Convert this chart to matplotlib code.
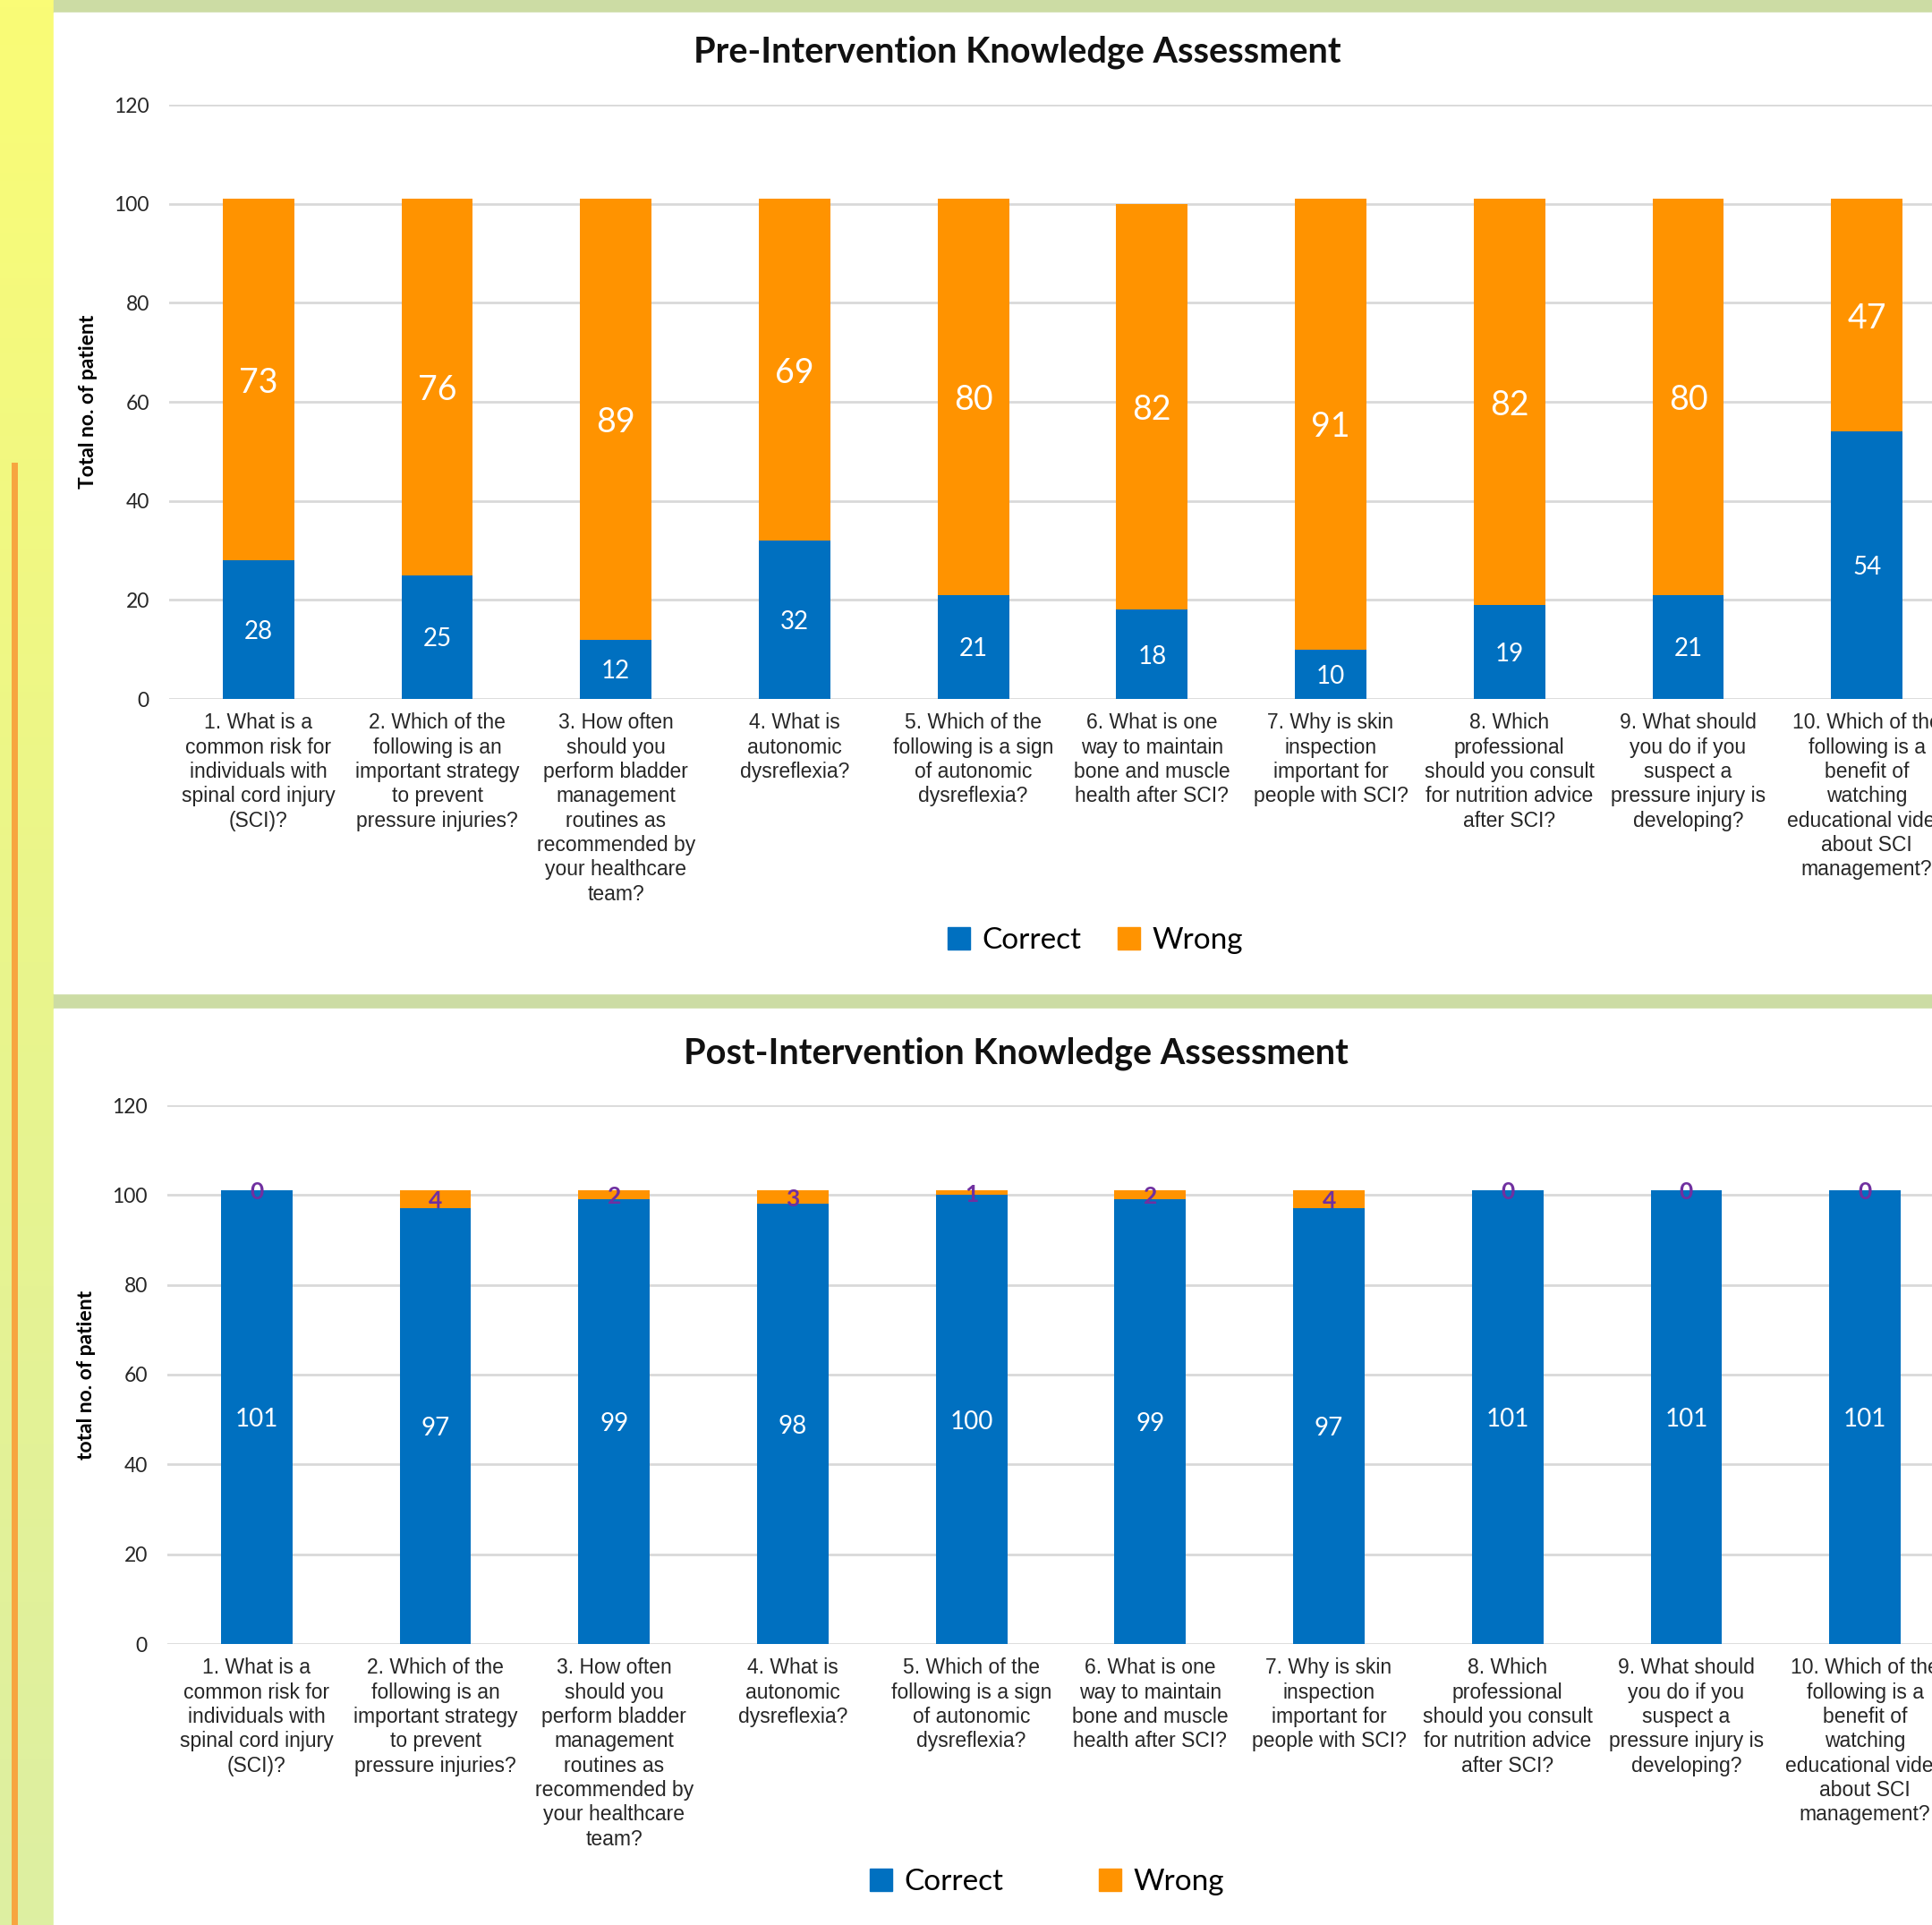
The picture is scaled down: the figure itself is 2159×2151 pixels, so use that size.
import numpy as np
import matplotlib
matplotlib.use('Agg')
import matplotlib.pyplot as plt
from matplotlib.patches import Rectangle, Patch

# Question labels (wrapped as in the chart)
questions = [
    "1. What is a\ncommon risk for\nindividuals with\nspinal cord injury\n(SCI)?",
    "2. Which of the\nfollowing is an\nimportant strategy\nto prevent\npressure injuries?",
    "3. How often\nshould you\nperform bladder\nmanagement\nroutines as\nrecommended by\nyour healthcare\nteam?",
    "4. What is\nautonomic\ndysreflexia?",
    "5. Which of the\nfollowing is a sign\nof autonomic\ndysreflexia?",
    "6. What is one\nway to maintain\nbone and muscle\nhealth after SCI?",
    "7. Why is skin\ninspection\nimportant for\npeople with SCI?",
    "8. Which\nprofessional\nshould you consult\nfor nutrition advice\nafter SCI?",
    "9. What should\nyou do if you\nsuspect a\npressure injury is\ndeveloping?",
    "10. Which of the\nfollowing is a\nbenefit of\nwatching\neducational video\nabout SCI\nmanagement?",
]

pre_correct = [28, 25, 12, 32, 21, 18, 10, 19, 21, 54]
pre_wrong = [73, 76, 89, 69, 80, 82, 91, 82, 80, 47]

post_correct = [101, 97, 99, 98, 100, 99, 97, 101, 101, 101]
post_wrong = [0, 4, 2, 3, 1, 2, 4, 0, 0, 0]

y_ticks = [0, 20, 40, 60, 80, 100, 120]

BLUE = '#0070C0'
ORANGE = '#FF9300'
PURPLE = '#7030A0'
GRID = '#D9D9D9'
UI_FONT = 'Lato'
CAT_FONT = 'Liberation Sans'

W, H = 2159, 2151
fig = plt.figure(figsize=(W / 100, H / 100), dpi=100)
fig.patch.set_facecolor('#EEF680')


def px_box(x0, y0, x1, y1):
    # pixel box (top-left origin) -> figure fraction rect
    return [x0 / W, 1 - y1 / H, (x1 - x0) / W, (y1 - y0) / H]


# background: yellow gradient on the left, greenish bands at top and between panels
bg = fig.add_axes([0, 0, 1, 1], zorder=-10)
grad = np.linspace(0, 1, 256).reshape(-1, 1)
cmap = matplotlib.colors.LinearSegmentedColormap.from_list('bg', ['#FAFC76', '#E9F58C', '#DDEFA2'])
bg.imshow(grad, aspect='auto', cmap=cmap, extent=[0, 1, 0, 1])
bg.add_patch(Rectangle((60 / W, 1 - 14 / H), 1, 14 / H, color='#CCDCA4', transform=bg.transAxes))
bg.add_patch(Rectangle((60 / W, 1 - 1127 / H), 1, 17 / H, color='#CCDCA4', transform=bg.transAxes))
bg.plot([16 / W, 16 / W], [0, 1 - 520 / H], color='#F7A540', lw=5, transform=bg.transAxes)
bg.set_xlim(0, 1)
bg.set_ylim(0, 1)
bg.axis('off')

# white chart panels
fig.patches.append(Rectangle((60 / W, 1 - 1110 / H), 1, (1110 - 14) / H, color='white',
                             transform=fig.transFigure, zorder=-5))
fig.patches.append(Rectangle((60 / W, 0), 1, (H - 1127) / H, color='white',
                             transform=fig.transFigure, zorder=-5))


def draw_panel(rect, correct, wrong, title, title_xy, ylabel, post):
    ax = fig.add_axes(rect)
    ax.set_facecolor('none')
    x = np.arange(len(questions))
    ax.bar(x, correct, width=0.4, color=BLUE, zorder=3)
    ax.bar(x, wrong, width=0.4, bottom=correct, color=ORANGE, zorder=3)

    for i in range(len(questions)):
        c = correct[i]
        w = wrong[i]
        ax.text(i, c / 2, str(c), ha='center', va='center_baseline', color='white',
                fontsize=20, family=UI_FONT, zorder=4)
        if post:
            ax.text(i, c + w / 2, str(w), ha='center', va='center_baseline', color=PURPLE,
                    fontsize=19, fontweight='bold', family=UI_FONT, zorder=4)
        else:
            ax.text(i, c + w / 2, str(w), ha='center', va='center_baseline', color='white',
                    fontsize=27, family=UI_FONT, zorder=4)

    ax.set_xlim(-0.5, len(questions) - 0.5)
    ax.set_ylim(0, 120)
    ax.set_yticks(y_ticks)
    ax.set_xticks(x)
    ax.set_xticklabels(questions, family=CAT_FONT, fontsize=16.5, color='#262626',
                       linespacing=1.24, va='top')
    for lbl in ax.get_yticklabels():
        lbl.set_family(UI_FONT)
        lbl.set_fontsize(16.5)
        lbl.set_color('#262626')
    ax.tick_params(axis='both', length=0)
    ax.tick_params(axis='x', pad=11)
    ax.tick_params(axis='y', pad=16)
    ax.grid(axis='y', color=GRID, lw=2, zorder=0)
    for s in ax.spines.values():
        s.set_visible(False)
    ax.set_ylabel(ylabel, family=UI_FONT, fontweight='bold', fontsize=16.5)
    ax.yaxis.set_label_coords(-0.040, 0.5)

    fig.text(title_xy[0] / W, 1 - title_xy[1] / H, title, ha='center', va='center',
             family=UI_FONT, fontweight='bold', fontsize=28.5, color='#111111')
    return ax


draw_panel(px_box(189, 117, 189 + 1997, 781), pre_correct, pre_wrong,
           'Pre-Intervention Knowledge Assessment', (1137, 58),
           'Total no. of patient', False)
draw_panel(px_box(187, 1235, 187 + 1997, 1837), post_correct, post_wrong,
           'Post-Intervention Knowledge Assessment', (1135, 1177),
           'total no. of patient', True)

handles = [Patch(color=BLUE, label='Correct'), Patch(color=ORANGE, label='Wrong')]
fig.legend(handles=handles, loc='center', bbox_to_anchor=(1224 / W, 1 - 1051 / H), ncol=2,
           frameon=False, prop={'family': UI_FONT, 'size': 24}, handlelength=0.75,
           handleheight=0.75, handletextpad=0.4, columnspacing=1.2)
fig.legend(handles=handles, loc='center', bbox_to_anchor=(1170 / W, 1 - 2103 / H), ncol=2,
           frameon=False, prop={'family': UI_FONT, 'size': 24}, handlelength=0.75,
           handleheight=0.75, handletextpad=0.4, columnspacing=3.2)

plt.savefig('out.png', dpi=100, facecolor=fig.get_facecolor())
plt.close()
